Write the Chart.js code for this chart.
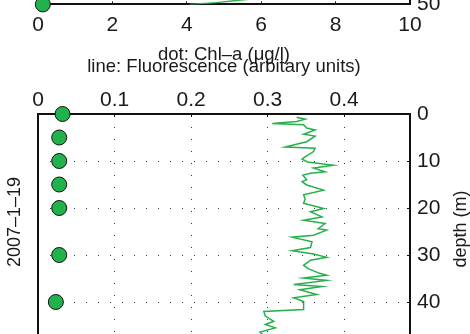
<!DOCTYPE html>
<html>
<head>
<meta charset="utf-8">
<script src="https://cdn.jsdelivr.net/npm/chart.js@4.4.1/dist/chart.umd.min.js"></script>
<style>
  html, body { margin: 0; padding: 0; background: #fff; overflow: hidden; width: 470px; height: 334px; }
  canvas { position: absolute; left: 0; }
  #graficoAnterior { top: -240px; }
  #graficoPerfil { top: 40px; }
</style>
</head>
<body>
<canvas id="graficoAnterior" width="470" height="320"></canvas>
<canvas id="graficoPerfil" width="470" height="360"></canvas>
<script>
const chlTicks = [0, 2, 4, 6, 8, 10];
const fluorTicks = [0, 0.1, 0.2, 0.3, 0.4];
const depthTicks = [0, 10, 20, 30, 40, 50];

// perfil anterior: solo se ve el fondo
const prevChlDepth = [50];
const prevChl = [0.13];
const prevFluorDepth = [46.5, 47.6, 48.4, 49.06, 49.6, 50];
const prevFluor = [0.31, 0.29, 0.30, 0.262, 0.233, 0.198];

// 2007-1-19
const chlDepth = [0, 5, 10, 15, 20, 30, 40];
const chl = [0.66, 0.57, 0.57, 0.57, 0.57, 0.57, 0.48];
const fluorDepth = [0.7, 1.1, 1.6, 2.0, 2.3, 3.0, 3.4, 4.3, 4.7, 5.9, 7.0, 7.3, 8.0, 9.0, 9.6,
  10.2, 10.9, 11.5, 12.3, 12.6, 13.0, 14.0, 14.4, 15.1, 16.2, 17.2, 18.1, 19.0, 20.1, 20.8,
  21.9, 22.6, 23.3, 24.4, 24.7, 25.8, 26.2, 27.2, 28.4, 29.1, 29.8, 30.5, 31.1, 32.2, 32.9,
  33.9, 34.3, 34.9, 35.4, 36.3, 36.7, 37.4, 38.4, 39.1, 39.9, 41.6, 42.0, 43.0, 44.1, 44.8,
  45.5, 46.4, 47.3, 48.2, 49.1, 50];
const fluor = [0.338, 0.349, 0.338, 0.306, 0.347, 0.351, 0.362, 0.347, 0.362, 0.351, 0.323, 0.362, 0.360, 0.350, 0.345,
  0.352, 0.386, 0.360, 0.375, 0.356, 0.346, 0.351, 0.345, 0.351, 0.373, 0.347, 0.349, 0.347, 0.373, 0.356,
  0.371, 0.347, 0.375, 0.366, 0.377, 0.360, 0.332, 0.358, 0.356, 0.332, 0.360, 0.377, 0.356, 0.347, 0.353,
  0.368, 0.377, 0.347, 0.377, 0.334, 0.371, 0.342, 0.364, 0.334, 0.347, 0.347, 0.295, 0.297, 0.308, 0.297,
  0.310, 0.290, 0.296, 0.288, 0.294, 0.290];

const FUENTE = '"Liberation Sans", Arial, Helvetica, sans-serif';
const TEXTO = "#1a1a1a";
const BORDE = "#111";
const PUNTOS = "#3a3a3a";
const VERDE = "#26b04b";
const FLUOR_MAX = 0.486;

Chart.defaults.font.family = FUENTE;
Chart.defaults.color = TEXTO;

function puntos(xs, ys) {
  return xs.map((x, i) => ({ x, y: ys[i] }));
}

function fijarTicks(valores) {
  return (scale) => { scale.ticks = valores.map((v) => ({ value: v })); };
}

function ejeProfundidad(mostrarTicks) {
  return {
    type: "linear", position: "right", reverse: true, min: 0, max: 50,
    afterBuildTicks: fijarTicks(depthTicks),
    afterFit: (s) => { s.width = 60; },
    ticks: { display: mostrarTicks, font: { size: 21 }, padding: 10, color: TEXTO },
    grid: { color: PUNTOS, lineWidth: 1, tickLength: -3, tickColor: BORDE, tickWidth: 1 },
    border: { display: true, color: BORDE, width: 2, dash: [1, 11] }
  };
}

function ejeIzquierdo() {
  return {
    type: "linear", position: "left", reverse: true, min: 0, max: 50,
    afterFit: (s) => { s.width = 38; },
    ticks: { display: false },
    grid: { drawOnChartArea: false, drawTicks: false },
    border: { display: true, color: BORDE, width: 2 }
  };
}

function serieLinea(data, ejeX) {
  return {
    data, xAxisID: ejeX, yAxisID: "y", showLine: true,
    borderColor: VERDE, borderWidth: 1.5, pointRadius: 0, tension: 0
  };
}

function serieCirculos(data, ejeX) {
  return {
    data, xAxisID: ejeX, yAxisID: "y", showLine: false, clip: false,
    pointRadius: 7.5, backgroundColor: "#21b24b", borderColor: BORDE, borderWidth: 1
  };
}

const etiquetasGiradas = {
  id: "etiquetasGiradas",
  afterDraw(chart) {
    const ctx = chart.ctx;
    const dibujar = (texto, x, y) => {
      ctx.save();
      ctx.translate(x, y);
      ctx.rotate(-Math.PI / 2);
      ctx.font = "18px " + FUENTE;
      ctx.fillStyle = TEXTO;
      ctx.textAlign = "center";
      ctx.textBaseline = "middle";
      ctx.fillText(texto, 0, 0);
      ctx.restore();
    };
    const area = chart.chartArea;
    dibujar("2007–1–19", area.left - 23, area.top + 108);
    dibujar("depth (m)", area.right + 51.5, area.top + 115);
  }
};

// panel de arriba (perfil anterior, cortado)
new Chart(document.getElementById("graficoAnterior"), {
  type: "scatter",
  data: {
    datasets: [
      serieLinea(puntos(prevFluor, prevFluorDepth), "xf"),
      serieCirculos(puntos(prevChl, prevChlDepth), "x")
    ]
  },
  options: {
    responsive: false, animation: false,
    layout: { padding: { top: 9.4, bottom: 0, left: 0, right: 0 } },
    plugins: { legend: { display: false }, tooltip: { enabled: false } },
    scales: {
      x: {
        type: "linear", position: "bottom", min: 0, max: 10,
        afterBuildTicks: fijarTicks(chlTicks),
        afterFit: (s) => { s.height = 75.6; },
        ticks: { font: { size: 21 }, padding: 11.3, color: TEXTO },
        grid: { color: PUNTOS, lineWidth: 1, tickLength: -3, tickColor: BORDE, tickWidth: 1 },
        border: { display: true, color: BORDE, width: 2, dash: [1, 11] },
        title: { display: true, text: "dot: Chl–a (μg/l)", font: { size: 18.5 }, color: TEXTO, padding: { top: 0, bottom: 13.5 } }
      },
      xf: { type: "linear", display: false, min: 0, max: FLUOR_MAX },
      y: ejeProfundidad(true),
      yl: ejeIzquierdo()
    }
  }
});

// panel 2007-1-19
new Chart(document.getElementById("graficoPerfil"), {
  type: "scatter",
  data: {
    datasets: [
      serieLinea(puntos(fluor, fluorDepth), "x"),
      serieCirculos(puntos(chl, chlDepth), "xc")
    ]
  },
  options: {
    responsive: false, animation: false,
    layout: { padding: { top: 0, bottom: 51, left: 0, right: 0 } },
    plugins: { legend: { display: false }, tooltip: { enabled: false } },
    scales: {
      x: {
        type: "linear", position: "top", min: 0, max: FLUOR_MAX,
        afterBuildTicks: fijarTicks(fluorTicks),
        afterFit: (s) => { s.height = 74; },
        ticks: { font: { size: 21 }, padding: 4.4, color: TEXTO, callback: (v) => String(v) },
        grid: { color: PUNTOS, lineWidth: 1, tickLength: -3, tickColor: BORDE, tickWidth: 1 },
        border: { display: true, color: BORDE, width: 2, dash: [1, 11] },
        title: { display: true, text: "line: Fluorescence (arbitary units)", font: { size: 18.5 }, color: TEXTO, padding: { top: 15.6, bottom: 0 } }
      },
      xc: { type: "linear", display: false, min: 0, max: 10 },
      y: ejeProfundidad(true),
      yl: ejeIzquierdo()
    }
  },
  plugins: [etiquetasGiradas]
});
</script>
</body>
</html>
